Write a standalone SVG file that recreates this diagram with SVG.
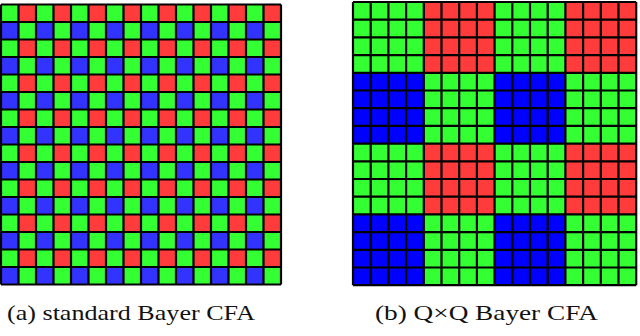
<svg xmlns="http://www.w3.org/2000/svg" width="640" height="336" viewBox="0 0 640 336">
<style>
.grid{fill:none;stroke:#000;stroke-width:2.2}
.cap{font-family:"Liberation Serif","Times New Roman",serif;font-size:21px;fill:#111}
</style>
<defs>
<pattern id="bayer" patternUnits="userSpaceOnUse" x="1" y="4.5" width="35" height="35">
<rect width="35" height="35" fill="#33ff33"/>
<rect x="17.5" y="0" width="17.5" height="17.5" fill="#ff3b3b"/>
<rect x="0" y="17.5" width="17.5" height="17.5" fill="#3333ff"/>
</pattern>
<pattern id="qbayer" patternUnits="userSpaceOnUse" x="353" y="2" width="141.6" height="141.6">
<rect width="141.6" height="141.6" fill="#33ff33"/>
<rect x="70.8" y="0" width="70.8" height="70.8" fill="#ff3b3b"/>
<rect x="0" y="70.8" width="70.8" height="70.8" fill="#0000ff"/>
</pattern>
</defs>
<g id="standard-bayer">
<rect x="1" y="4.5" width="280" height="280" fill="url(#bayer)"/>
<path class="grid" d="M1 4.5V284.5M18.5 4.5V284.5M36 4.5V284.5M53.5 4.5V284.5M71 4.5V284.5M88.5 4.5V284.5M106 4.5V284.5M123.5 4.5V284.5M141 4.5V284.5M158.5 4.5V284.5M176 4.5V284.5M193.5 4.5V284.5M211 4.5V284.5M228.5 4.5V284.5M246 4.5V284.5M263.5 4.5V284.5M281 4.5V284.5M1 4.5H281M1 22H281M1 39.5H281M1 57H281M1 74.5H281M1 92H281M1 109.5H281M1 127H281M1 144.5H281M1 162H281M1 179.5H281M1 197H281M1 214.5H281M1 232H281M1 249.5H281M1 267H281M1 284.5H281"/>
</g>
<g id="qxq-bayer">
<rect x="353" y="2" width="283.2" height="283.2" fill="url(#qbayer)"/>
<path class="grid" d="M353 2V285.2M370.7 2V285.2M388.4 2V285.2M406.1 2V285.2M423.8 2V285.2M441.5 2V285.2M459.2 2V285.2M476.9 2V285.2M494.6 2V285.2M512.3 2V285.2M530 2V285.2M547.7 2V285.2M565.4 2V285.2M583.1 2V285.2M600.8 2V285.2M618.5 2V285.2M636.2 2V285.2M353 2H636.2M353 19.7H636.2M353 37.4H636.2M353 55.1H636.2M353 72.8H636.2M353 90.5H636.2M353 108.2H636.2M353 125.9H636.2M353 143.6H636.2M353 161.3H636.2M353 179H636.2M353 196.7H636.2M353 214.4H636.2M353 232.1H636.2M353 249.8H636.2M353 267.5H636.2M353 285.2H636.2"/>
</g>
<text class="cap" x="7" y="320" textLength="248" lengthAdjust="spacingAndGlyphs">(a) standard Bayer CFA</text>
<text class="cap" x="375" y="320" textLength="223" lengthAdjust="spacingAndGlyphs">(b) Q×Q Bayer CFA</text>
</svg>
